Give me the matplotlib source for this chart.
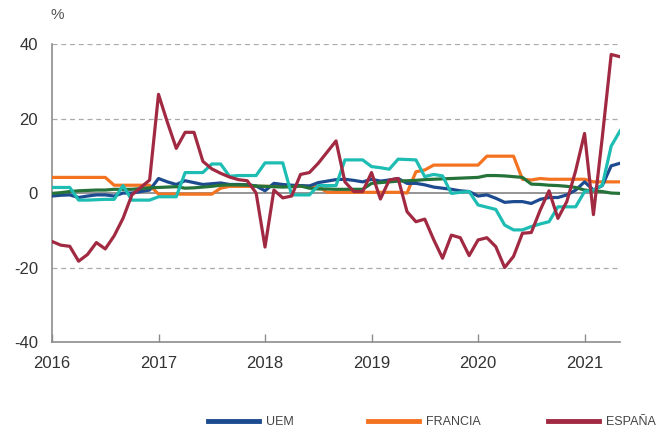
import numpy as np
import matplotlib
matplotlib.use("Agg")
import matplotlib.pyplot as plt
from matplotlib.ticker import FuncFormatter
from matplotlib.lines import Line2D

plt.rcParams['font.family'] = ['Liberation Sans', 'DejaVu Sans']

# monthly values, Jan 2016 .. May 2021
uem = [-0.8, -0.6, -0.5, -1.2, -0.8, -0.5, -0.5, -0.8, 0, 0, 0.4, 0.8,
       3.9, 3, 2.3, 3.3, 2.8, 2.3, 2.5, 2.7, 2.3, 2.3, 2.2, 1.9,
       0.6, 2.6, 2.3, 2.1, 2.0, 1.9, 2.8, 3.2, 3.6, 3.7, 3.4, 3,
       3.7, 3.2, 3.5, 3.9, 2.6, 2.6, 2.2, 1.6, 1.3, 1, 0.6, 0.4,
       -0.8, -0.5, -1.4, -2.5, -2.3, -2.3, -2.8, -1.7, -1.2, -1.2, -0.5, 0.8,
       3, 0.8, 2, 7.3, 8]
francia = [4.2, 4.2, 4.2, 4.2, 4.2, 4.2, 4.2, 2.1, 2.1, 2.1, 2.1, 2.1,
           -0.3, -0.3, -0.3, -0.3, -0.3, -0.3, -0.3, 1.3, 1.8, 1.8, 1.8, 1.8,
           1.8, 1.8, 1.8, 1.8, 1.8, 1.8, 1.8, 0.2, 0.2, 0.2, 0.2, 0.2,
           0.2, 0.2, 0.2, 0.2, 0, 5.7, 6.2, 7.5, 7.5, 7.5, 7.5, 7.5,
           7.5, 9.9, 9.9, 9.9, 9.9, 3.7, 3.5, 3.9, 3.7, 3.7, 3.7, 3.7,
           3.7, 3, 3, 3, 3]
espana = [-13, -14, -14.3, -18.3, -16.5, -13.3, -15, -11.5, -6.8, -0.5, 1.5, 3.5,
          26.5, 19, 12, 16.3, 16.3, 8.5, 6.5, 5.3, 4.3, 3.6, 3.3, 0,
          -14.5, 0.8, -1.3, -0.8, 5, 5.5, 8, 11, 14, 3, 0.4, 0.4,
          5.5, -1.6, 3.5, 3.9, -5, -7.7, -7, -12.5, -17.5, -11.3, -12, -16.8,
          -12.6, -12, -14.4, -20, -17, -10.8, -10.6, -4.6, 0.6, -6.8, -2.3, 6,
          16, -5.8, 15, 37.2, 36.6]
alemania = [1.5, 1.5, 1.5, -1.9, -1.9, -1.8, -1.7, -1.7, 2, -1.9, -1.9, -1.9,
            -1, -1, -1, 5.5, 5.5, 5.5, 7.8, 7.8, 4.5, 4.7, 4.7, 4.7,
            8.1, 8.1, 8.1, -0.5, -0.5, -0.5, 2, 2, 2, 8.9, 8.9, 8.9,
            7.1, 6.8, 6.4, 9.1, 9, 8.9, 4.4, 5, 4.6, -0.1, 0.2, 0.4,
            -3.2, -3.8, -4.4, -8.6, -9.9, -9.9, -9, -8.3, -7.7, -3.7, -3.7, -3.7,
            0.4, 0.8, 2.1, 12.6, 16.7]
italia = [-0.1, 0.1, 0.4, 0.6, 0.7, 0.8, 0.8, 1, 1, 1, 1.2, 1.4,
          1.5, 1.6, 1.7, 1.3, 1.4, 1.6, 1.8, 2.1, 2.2, 2.2, 2.2, 1.9,
          1.8, 1.7, 1.6, 1.7, 1.9, 1.3, 1.1, 1.1, 1.0, 1, 1, 1,
          2.6, 2.8, 3, 3.2, 3.3, 3.4, 3.6, 3.7, 3.8, 3.9, 4.0, 4.1,
          4.2, 4.7, 4.7, 4.6, 4.4, 4.2, 2.4, 2.3, 2.1, 2, 1.8, 1.5,
          0.8, 0.6, 0.4, 0, -0.1]
years = [2016, 2017, 2018, 2019, 2020, 2021]

x = 2016 + np.arange(len(uem)) / 12.0

fig = plt.figure(figsize=(6.59, 4.32), dpi=100)
ax = fig.add_axes([0.0789, 0.2083, 0.862, 0.6897])

gray = "#8c8c8c"
ax.axhline(0, color=gray, lw=1.3, zorder=1)
for g in [40, 20, -20]:
    ax.axhline(g, color="#aaaaaa", lw=0.9, ls=(0, (4, 3)), zorder=0)

lw = 2.3
c_uem, c_fra, c_esp = "#1d4b8f", "#f47321", "#a12a42"
ax.plot(x, francia, color=c_fra, lw=lw, zorder=3)
ax.plot(x, uem, color=c_uem, lw=lw, zorder=4)
ax.plot(x, italia, color="#26733a", lw=lw, zorder=5)
ax.plot(x, alemania, color="#1dbdb3", lw=lw, zorder=6)
ax.plot(x, espana, color=c_esp, lw=lw, zorder=7)

ax.set_xlim(2016, x[-1])
ax.set_ylim(-40, 40)
ax.set_xticks(years)
ax.set_yticks([-40, -20, 0, 20, 40])
ax.yaxis.set_major_formatter(FuncFormatter(lambda v, p: "%d" % v))

for s in ["top", "right"]:
    ax.spines[s].set_visible(False)
for s in ["left", "bottom"]:
    ax.spines[s].set_color(gray)
    ax.spines[s].set_linewidth(1.2)

ax.tick_params(axis="x", direction="in", length=6, color=gray, width=1,
               labelsize=12, labelcolor="#333333", pad=10)
ax.tick_params(axis="y", length=0, labelsize=12, labelcolor="#333333", pad=10)

fig.text(0.087, 0.965, "%", fontsize=11, color="#555555", ha="center", va="center")

# legend: one entry per block, placed like the original
for name, col, xpos in [("UEM", c_uem, 208), ("FRANCIA", c_fra, 368), ("ESPAÑA", c_esp, 548)]:
    h = Line2D([], [], color=col, lw=3.5)
    fig.legend([h], [name], loc="center left", bbox_to_anchor=(xpos / 659, 0.023),
               frameon=False, fontsize=9, handlelength=4.1, handletextpad=0.55,
               borderpad=0, borderaxespad=0, labelcolor="#444444")

fig.savefig("out.png", dpi=100)
